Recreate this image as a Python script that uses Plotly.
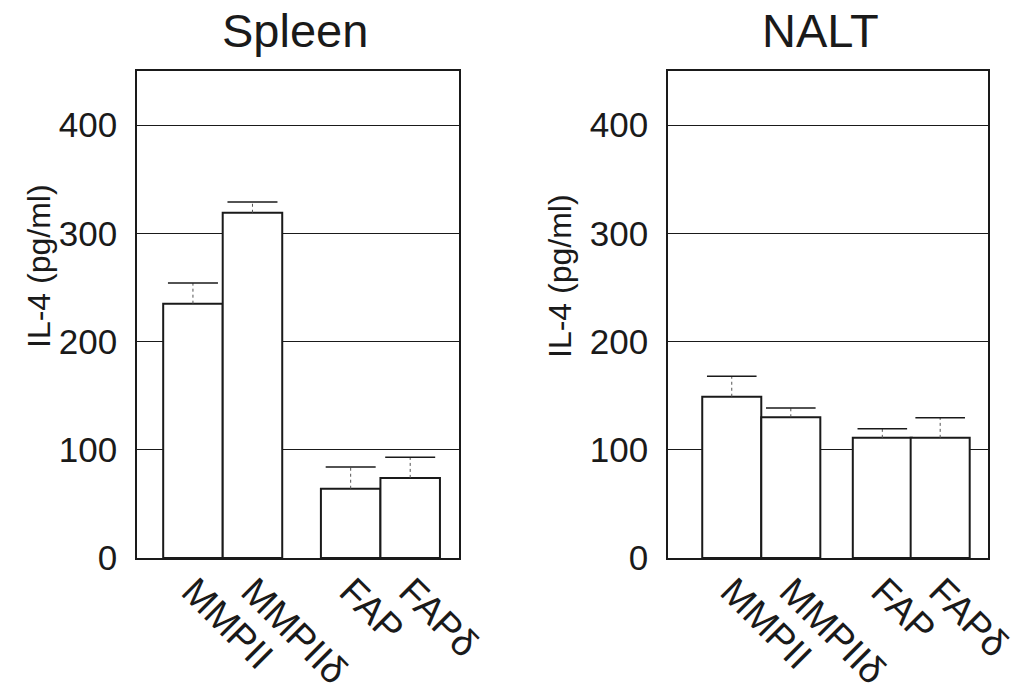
import plotly.graph_objects as go

# ---- data ----
categories = ["MMPII", "MMPIIδ", "FAP", "FAPδ"]
spleen_mean = [235, 319, 64, 74]
spleen_err = [19, 10, 20, 19]
nalt_mean = [149, 130, 111, 111]
nalt_err = [19, 8.5, 8.5, 18.5]
y_ticks = [0, 100, 200, 300, 400]
panel_titles = ["Spleen", "NALT"]
y_title = "IL-4 (pg/ml)"

# ---- layout (positions of bars along each numeric x axis) ----
left_pos = [0, 1, 2.65, 3.65]
right_pos = [0, 1, 2.55, 3.53]
left_range = [-0.94, 4.47]
right_range = [-1.08, 4.34]

FONT = "Liberation Sans, Arial, Helvetica, sans-serif"
INK = "#1a1a1a"

fig = go.Figure()


def add_panel(pos, mean, err, xa, ya):
    fig.add_trace(go.Bar(
        x=pos, y=mean, width=1.0, xaxis=xa, yaxis=ya,
        marker=dict(color="white", line=dict(color=INK, width=2)),
        showlegend=False, hoverinfo="skip",
    ))
    # dotted stems of the upper error bars
    sx, sy, cx, cy = [], [], [], []
    for p, m, e in zip(pos, mean, err):
        sx += [p, p, None]
        sy += [m, m + e, None]
        cx += [p - 0.42, p + 0.42, None]
        cy += [m + e, m + e, None]
    fig.add_trace(go.Scatter(
        x=sx, y=sy, mode="lines", xaxis=xa, yaxis=ya,
        line=dict(color="#555555", width=1, dash="dot"),
        showlegend=False, hoverinfo="skip",
    ))
    fig.add_trace(go.Scatter(
        x=cx, y=cy, mode="lines", xaxis=xa, yaxis=ya,
        line=dict(color=INK, width=1.5),
        showlegend=False, hoverinfo="skip",
    ))


add_panel(left_pos, spleen_mean, spleen_err, "x", "y")
add_panel(right_pos, nalt_mean, nalt_err, "x2", "y2")

W, H = 1013, 697
ydom = [1 - 558 / H, 1 - 71 / H]

common_x = dict(
    showgrid=False, zeroline=False, showline=True, mirror=True,
    linecolor=INK, linewidth=1.5, ticks="", tickangle=45,
    tickfont=dict(family=FONT, size=38, color=INK),
    ticklabelstandoff=-6, automargin=False, ticklabeloverflow="allow",
)
common_y = dict(
    range=[0, 450], tickvals=y_ticks, showgrid=True, gridcolor=INK,
    gridwidth=1.2, zeroline=False, showline=True, mirror=True,
    linecolor=INK, linewidth=1.5, ticks="",
    tickfont=dict(family=FONT, size=35, color=INK),
    ticklabelstandoff=11, automargin=False,
)

fig.update_layout(
    width=W, height=H,
    margin=dict(l=0, r=0, t=0, b=0, autoexpand=False),
    paper_bgcolor="white", plot_bgcolor="white",
    barmode="overlay",
    xaxis=dict(domain=[137 / W, 459 / W], range=left_range,
               tickvals=left_pos, ticktext=categories, anchor="y", **common_x),
    yaxis=dict(domain=ydom, anchor="x", **common_y),
    xaxis2=dict(domain=[668 / W, 988 / W], range=right_range,
                tickvals=right_pos, ticktext=categories, anchor="y2", **common_x),
    yaxis2=dict(domain=ydom, anchor="x2", **common_y),
)

# panel titles
for xc, t in zip([295 / W, 820 / W], panel_titles):
    fig.add_annotation(text=t, x=xc, y=1 - 31 / H, xref="paper", yref="paper",
                       xanchor="center", yanchor="middle", showarrow=False,
                       font=dict(family=FONT, size=47, color=INK))

# y-axis titles
for xc, yc in [(39 / W, 1 - 266 / H), (560 / W, 1 - 276 / H)]:
    fig.add_annotation(text=y_title, x=xc, y=yc, xref="paper", yref="paper",
                       xanchor="center", yanchor="middle", showarrow=False,
                       textangle=-90,
                       font=dict(family=FONT, size=32, color=INK))

fig.write_html("out.html")
